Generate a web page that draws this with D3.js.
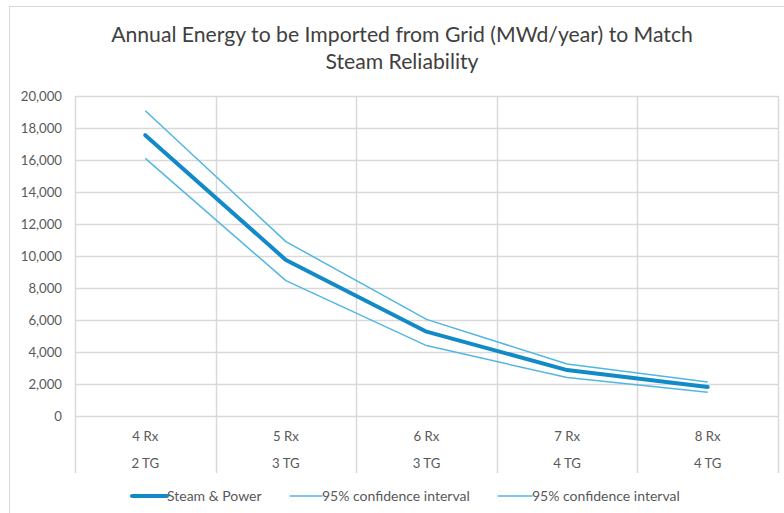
<!DOCTYPE html>
<html>
<head>
<meta charset="utf-8">
<script src="https://cdn.jsdelivr.net/npm/d3@7"></script>
<style>
  html, body { margin: 0; padding: 0; background: #fff; }
  svg { display: block; font-family: Lato, "Open Sans", sans-serif; }
</style>
</head>
<body>
<svg id="chart" width="784" height="513"></svg>
<script>
// Configurations: reactors / turbine-generators
const reactors = ["4 Rx", "5 Rx", "6 Rx", "7 Rx", "8 Rx"];
const turbines = ["2 TG", "3 TG", "3 TG", "4 TG", "4 TG"];

// Annual energy imported from grid (MWd/year)
const steamPower = [17550, 9750, 5270, 2870, 1810];
const ciUpper    = [19080, 10900, 6040, 3250, 2120];
const ciLower    = [16100, 8460, 4400, 2400, 1480];

const yTicks = [0, 2000, 4000, 6000, 8000, 10000, 12000, 14000, 16000, 18000, 20000];

const titleLines = [
  "Annual Energy to be Imported from Grid (MWd/year) to Match",
  "Steam Reliability"
];

const svg = d3.select("#chart");
const W = 784, H = 513;
const plot = { left: 75, right: 778, top: 96, bottom: 416 };

const gridColor = "#d9d9d9";
const textColor = "#595959";
const mainColor = "#138ac8";
const ciColor = "#52b6e2";

// chart frame
svg.append("rect")
  .attr("x", 9.5).attr("y", 6.5)
  .attr("width", W + 10).attr("height", H + 10)
  .attr("fill", "#fff").attr("stroke", gridColor).attr("stroke-width", 1);

// title
svg.append("g").selectAll("text").data(titleLines).join("text")
  .attr("x", 402).attr("y", (d, i) => 42 + i * 26.5)
  .attr("text-anchor", "middle")
  .attr("fill", "#404040")
  .attr("font-size", 21.2)
  .text(d => d);

const x = d3.scaleBand().domain(d3.range(reactors.length))
  .range([plot.left, plot.right]).paddingInner(0).paddingOuter(0);
const y = d3.scaleLinear().domain([0, 20000]).range([plot.bottom, plot.top]);

// horizontal gridlines
svg.append("g").selectAll("line").data(yTicks).join("line")
  .attr("x1", plot.left).attr("x2", plot.right)
  .attr("y1", d => Math.round(y(d)) + 0.5).attr("y2", d => Math.round(y(d)) + 0.5)
  .attr("stroke", gridColor).attr("stroke-width", 1.5);

// vertical category dividers (extend through the category label area)
const bounds = d3.range(reactors.length + 1).map(i => i < reactors.length ? x(i) : x(i - 1) + x.bandwidth());
svg.append("g").selectAll("line").data(bounds).join("line")
  .attr("x1", d => Math.round(d) + 0.5).attr("x2", d => Math.round(d) + 0.5)
  .attr("y1", plot.top).attr("y2", 473)
  .attr("stroke", gridColor).attr("stroke-width", 1.5);

// y-axis labels
const yAxis = d3.axisLeft(y).tickValues(yTicks).tickSize(0).tickPadding(13)
  .tickFormat(d3.format(","));
const ya = svg.append("g").attr("transform", `translate(${plot.left},0)`).call(yAxis);
ya.select(".domain").remove();
ya.selectAll("text").attr("fill", textColor).attr("font-size", 13.2)
  .attr("font-family", "Lato, 'Open Sans', sans-serif");

// category labels (two levels)
const cx = i => x(i) + x.bandwidth() / 2;
svg.append("g").selectAll("text").data(reactors).join("text")
  .attr("x", (d, i) => cx(i)).attr("y", 441)
  .attr("text-anchor", "middle").attr("fill", textColor).attr("font-size", 13.2)
  .text(d => d);
svg.append("g").selectAll("text").data(turbines).join("text")
  .attr("x", (d, i) => cx(i)).attr("y", 468)
  .attr("text-anchor", "middle").attr("fill", textColor).attr("font-size", 13.2)
  .text(d => d);

// series lines
const line = d3.line().x((d, i) => cx(i)).y(d => y(d));
[ciUpper, ciLower].forEach(s => {
  svg.append("path").datum(s).attr("d", line)
    .attr("fill", "none").attr("stroke", ciColor).attr("stroke-width", 1.5)
    .attr("stroke-linejoin", "round");
});
svg.append("path").datum(steamPower).attr("d", line)
  .attr("fill", "none").attr("stroke", mainColor).attr("stroke-width", 4)
  .attr("stroke-linejoin", "round").attr("stroke-linecap", "round");

// legend
const legendItems = [
  { label: "Steam & Power", color: mainColor, width: 4, x0: 132, x1: 167 },
  { label: "95% confidence interval", color: ciColor, width: 1.5, x0: 290, x1: 322 },
  { label: "95% confidence interval", color: ciColor, width: 1.5, x0: 498, x1: 532 }
];
const lg = svg.append("g").selectAll("g").data(legendItems).join("g");
lg.append("line")
  .attr("x1", d => d.x0).attr("x2", d => d.x1).attr("y1", 496).attr("y2", 496)
  .attr("stroke", d => d.color).attr("stroke-width", d => d.width).attr("stroke-linecap", "round");
lg.append("text")
  .attr("x", d => d.x1).attr("y", 500.5)
  .attr("fill", textColor).attr("font-size", 14)
  .text(d => d.label);
</script>
</body>
</html>
